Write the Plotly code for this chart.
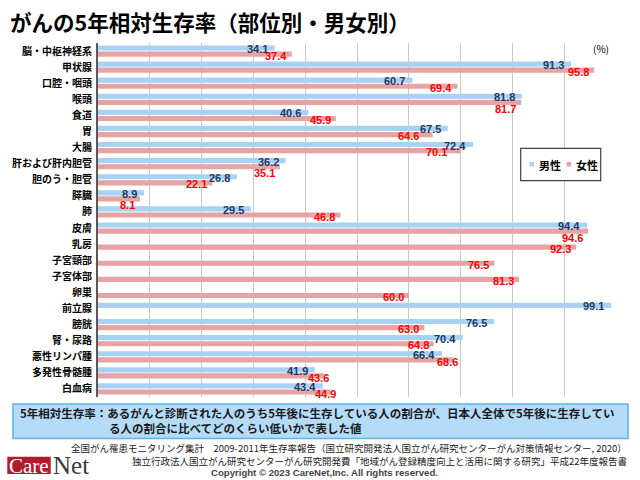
import plotly.graph_objects as go

categories = ["脳・中枢神経系", "甲状腺", "口腔・咽頭", "喉頭", "食道", "胃", "大腸",
              "肝および肝内胆管", "胆のう・胆管", "膵臓", "肺", "皮膚", "乳房", "子宮頸部",
              "子宮体部", "卵巣", "前立腺", "膀胱", "腎・尿路", "悪性リンパ腫", "多発性骨髄腫", "白血病"]
male = [34.1, 91.3, 60.7, 81.8, 40.6, 67.5, 72.4, 36.2, 26.8, 8.9, 29.5, 94.4,
        None, None, None, None, 99.1, 76.5, 70.4, 66.4, 41.9, 43.4]
female = [37.4, 95.8, 69.4, 81.7, 45.9, 64.6, 70.1, 35.1, 22.1, 8.1, 46.8, 94.6,
          92.3, 76.5, 81.3, 60.0, None, 63.0, 64.8, 68.6, 43.6, 44.9]
series_names = ["男性", "女性"]

W, H = 640, 480
L, R, T, B = 98, 616, 43, 397
JP = "Noto Sans CJK JP"
NUM = "Liberation Sans, Arial, sans-serif"
BLUE, RED = "#a7d2f3", "#e5a4a5"
OFF, BW = 0.19, 0.32


def px(x):
    return (x - L) / (R - L)


def py(y):
    return (B - y) / (B - T)


idx = list(range(len(categories)))
fig = go.Figure()
fig.add_trace(go.Bar(orientation="h", y=[i - OFF for i in idx], x=male, width=BW,
                     marker=dict(color=BLUE, line=dict(width=0)), name=series_names[0],
                     showlegend=False, hoverinfo="x"))
fig.add_trace(go.Bar(orientation="h", y=[i + OFF for i in idx], x=female, width=BW,
                     marker=dict(color=RED, line=dict(width=0)), name=series_names[1],
                     showlegend=False, hoverinfo="x"))

ann = []
for i, (m, f) in enumerate(zip(male, female)):
    if m is not None:
        ann.append(dict(x=m, y=i - OFF, xref="x", yref="y", xanchor="right", yanchor="middle",
                        xshift=-5, yshift=-1, showarrow=False, text=f"<b>{m:.1f}</b>",
                        font=dict(family=NUM, size=11, color="#1f3864")))
    if f is not None:
        xs, ys = -3, -1.5
        if m is not None:
            d = f - m
            if abs(d) < 1.2:
                ys = -6.5
            elif 0 < d < 2.5:
                xs, ys = 7, -2
            elif -3 < d < 0:
                xs = -12
        ann.append(dict(x=f, y=i + OFF, xref="x", yref="y", xanchor="right", yanchor="middle",
                        xshift=xs, yshift=ys, showarrow=False,
                        text=f"<b>{f:.1f}</b>",
                        font=dict(family=NUM, size=11, color="#ff0000")))

# title and unit
ann.append(dict(x=px(8), y=py(21), xref="paper", yref="paper", xanchor="left", yanchor="middle",
                showarrow=False, text="<b>がんの5年相対生存率（部位別・男女別）</b>",
                font=dict(family=JP, size=21.5, color="#000")))
ann.append(dict(x=px(601), y=py(48), xref="paper", yref="paper", xanchor="center", yanchor="middle",
                showarrow=False, text="(%)", font=dict(family=JP, size=10, color="#000")))

# legend (manual)
shapes = [
    dict(type="rect", xref="paper", yref="paper", x0=px(520.7), x1=px(600.7), y0=py(180.7), y1=py(148.3),
         line=dict(color="#404040", width=1.2), fillcolor="white", layer="above"),
    dict(type="rect", xref="paper", yref="paper", x0=px(529.5), x1=px(534), y0=py(166.5), y1=py(162),
         line=dict(width=0), fillcolor=BLUE),
    dict(type="rect", xref="paper", yref="paper", x0=px(566.5), x1=px(571), y0=py(166.5), y1=py(162),
         line=dict(width=0), fillcolor=RED),
]
for name, xl in zip(series_names, [536.5, 573.5]):
    ann.append(dict(x=px(xl), y=py(164.5), xref="paper", yref="paper", xanchor="left", yanchor="middle",
                    showarrow=False, text=f"<b>{name}</b>", font=dict(family=JP, size=11, color="#000")))

# definition box
shapes.append(dict(type="rect", xref="paper", yref="paper", x0=px(13), x1=px(628), y0=py(438.5), y1=py(404),
                   line=dict(color="#5bb3e8", width=1.5), fillcolor="#b4dbf7", layer="above"))
ann.append(dict(x=px(18), y=py(412.5), xref="paper", yref="paper", xanchor="left", yanchor="middle",
                showarrow=False,
                text="<b>5年相対生存率：あるがんと診断された人のうち5年後に生存している人の割合が、日本人全体で5年後に生存してい</b>",
                font=dict(family=JP, size=11.5, color="#1a1a1a")))
ann.append(dict(x=px(107), y=py(428), xref="paper", yref="paper", xanchor="left", yanchor="middle",
                showarrow=False, text="<b>る人の割合に比べてどのくらい低いかで表した値</b>",
                font=dict(family=JP, size=11.5, color="#1a1a1a")))

# sources
ann.append(dict(x=px(629), y=py(448.5), xref="paper", yref="paper", xanchor="right", yanchor="middle",
                showarrow=False,
                text="全国がん罹患モニタリング集計　2009-2011年生存率報告（国立研究開発法人国立がん研究センターがん対策情報センター, 2020）",
                font=dict(family=JP, size=9.5, color="#222")))
ann.append(dict(x=px(629), y=py(461), xref="paper", yref="paper", xanchor="right", yanchor="middle",
                showarrow=False,
                text="独立行政法人国立がん研究センターがん研究開発費「地域がん登録精度向上と活用に関する研究」平成22年度報告書",
                font=dict(family=JP, size=9.5, color="#222")))
ann.append(dict(x=px(324), y=py(472.5), xref="paper", yref="paper", xanchor="center", yanchor="middle",
                showarrow=False, text="<b>Copyright © 2023 CareNet,Inc. All rights reserved.</b>",
                font=dict(family=NUM, size=9.6, color="#444")))

# logo
shapes.append(dict(type="rect", xref="paper", yref="paper", x0=px(7.3), x1=px(50.7), y0=py(474), y1=py(456.7),
                   line=dict(width=0), fillcolor="#b01c2e", layer="above"))
ann.append(dict(x=px(29), y=py(465.5), xref="paper", yref="paper", xanchor="center", yanchor="middle",
                showarrow=False, text="Care",
                font=dict(family="Liberation Serif, Times New Roman, serif", size=21, color="white")))
ann.append(dict(x=px(51), y=py(465), xref="paper", yref="paper", xanchor="left", yanchor="middle",
                showarrow=False, text="Net",
                font=dict(family="Liberation Serif, Times New Roman, serif", size=25, color="#3a3a3a")))

fig.update_layout(
    width=W, height=H,
    margin=dict(l=L, r=W - R, t=T, b=H - B, pad=0),
    paper_bgcolor="white", plot_bgcolor="white",
    barmode="overlay", showlegend=False,
    annotations=ann, shapes=shapes,
    xaxis=dict(range=[0, 100], dtick=10, showgrid=True, gridcolor="#c8c8c8", gridwidth=1,
               showticklabels=False, zeroline=False, showline=False, fixedrange=True),
    yaxis=dict(range=[len(categories) - 0.5, -0.5], tickvals=idx,
               ticktext=[f"<b>{c}</b>" for c in categories],
               tickfont=dict(family=JP, size=10, color="#000"),
               showgrid=False, zeroline=False, showline=True, linecolor="#595959", linewidth=2,
               ticks="", ticklabelstandoff=2, fixedrange=True),
)

fig.write_html("out.html", config={"displayModeBar": False},
               post_script="document.body.style.margin='0';document.body.style.overflow='hidden';")
